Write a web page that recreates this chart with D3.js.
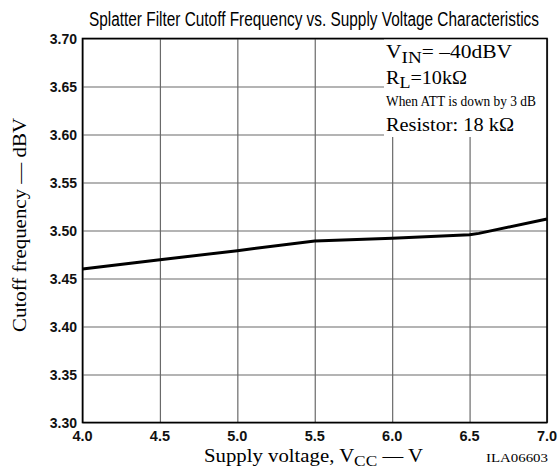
<!DOCTYPE html>
<html><head><meta charset="utf-8">
<script src="https://cdn.jsdelivr.net/npm/d3@7"></script>
<style>body{margin:0;background:#fff}svg{display:block}</style>
</head><body><svg id="c" width="560" height="467"></svg>
<script>
const voltage = [4.0, 4.5, 5.0, 5.5, 6.0, 6.5, 6.56, 7.0];
const cutoff = [3.460, 3.4695, 3.479, 3.489, 3.492, 3.4955, 3.497, 3.512];
const xTicks = [4.0, 4.5, 5.0, 5.5, 6.0, 6.5, 7.0];
const yTicks = [3.30, 3.35, 3.40, 3.45, 3.50, 3.55, 3.60, 3.65, 3.70];
const titleText = "Splatter Filter Cutoff Frequency vs. Supply Voltage Characteristics";

const svg = d3.select("#c");
const L = 82.5, R = 547, T = 38.5, B = 422.5;
const x = d3.scaleLinear().domain([4, 7]).range([L, R]);
const y = d3.scaleLinear().domain([3.30, 3.70]).range([B, T]);

// grid
svg.append("g").attr("transform", `translate(0,${B})`)
  .call(d3.axisBottom(x).tickValues(xTicks).tickSize(-(B - T)).tickFormat(""))
  .call(g => g.select(".domain").remove())
  .call(g => g.selectAll("line").attr("stroke", "#6a6a6a").attr("stroke-width", 1.2));
svg.append("g").attr("transform", `translate(${L},0)`)
  .call(d3.axisLeft(y).tickValues(yTicks).tickSize(-(R - L)).tickFormat(""))
  .call(g => g.select(".domain").remove())
  .call(g => g.selectAll("line").attr("stroke", "#6a6a6a").attr("stroke-width", 1.2));

// tick labels
svg.append("g").selectAll("text").data(xTicks).join("text")
  .attr("x", d => x(d)).attr("y", 441).attr("text-anchor", "middle")
  .attr("font-family", "Liberation Sans, Arial, sans-serif").attr("font-size", 14.5).attr("font-weight", "bold")
  .attr("fill", "#111").text(d => d.toFixed(1));
svg.append("g").selectAll("text").data(yTicks).join("text")
  .attr("x", 77).attr("y", d => y(d) + 5).attr("text-anchor", "end")
  .attr("font-family", "Liberation Sans, Arial, sans-serif").attr("font-size", 14).attr("font-weight", "bold")
  .attr("fill", "#111").text(d => d.toFixed(2));

// legend box
svg.append("rect").attr("x", 384).attr("y", T).attr("width", R - 384).attr("height", 137 - T).attr("fill", "#fff");

// data line
svg.append("path").datum(voltage.map((v, i) => [v, cutoff[i]]))
  .attr("fill", "none").attr("stroke", "#000").attr("stroke-width", 3)
  .attr("d", d3.line().x(d => x(d[0])).y(d => y(d[1])));

// frame
svg.append("rect").attr("x", L).attr("y", T).attr("width", R - L).attr("height", B - T)
  .attr("fill", "none").attr("stroke", "#000").attr("stroke-width", 1.6);

// title
svg.append("text").attr("x", 89).attr("y", 26).attr("textLength", 450).attr("lengthAdjust", "spacingAndGlyphs")
  .attr("font-family", "Liberation Sans Narrow, Liberation Sans, Arial, sans-serif").attr("font-size", 20)
  .attr("fill", "#000").text(titleText);

const serif = "Liberation Serif, Times New Roman, serif";
// legend texts
const t1 = svg.append("text").attr("x", 386).attr("y", 58).attr("font-family", serif).attr("font-size", 18)
  .attr("textLength", 126).attr("lengthAdjust", "spacingAndGlyphs");
t1.append("tspan").text("V");
t1.append("tspan").attr("dy", 5).attr("font-size", 16).text("IN");
t1.append("tspan").attr("dy", -5).text("= \u201340dBV");
const t2 = svg.append("text").attr("x", 386).attr("y", 84).attr("font-family", serif).attr("font-size", 18)
  .attr("textLength", 81).attr("lengthAdjust", "spacingAndGlyphs");
t2.append("tspan").text("R");
t2.append("tspan").attr("dy", 4).attr("font-size", 16).text("L");
t2.append("tspan").attr("dy", -4).text("=10k\u03A9");
svg.append("text").attr("x", 386).attr("y", 106).attr("font-family", serif).attr("font-size", 15)
  .attr("textLength", 150).attr("lengthAdjust", "spacingAndGlyphs").text("When ATT is down by 3 dB");
svg.append("text").attr("x", 386).attr("y", 131).attr("font-family", serif).attr("font-size", 18)
  .attr("textLength", 128).attr("lengthAdjust", "spacingAndGlyphs").text("Resistor: 18 k\u03A9");

// axis titles
const xt = svg.append("text").attr("x", 204).attr("y", 462).attr("font-family", serif).attr("font-size", 18)
  .attr("textLength", 219).attr("lengthAdjust", "spacingAndGlyphs");
xt.append("tspan").text("Supply voltage, V");
xt.append("tspan").attr("dy", 4).attr("font-size", 15).text("CC");
xt.append("tspan").attr("dy", -4).text(" \u2014 V");
svg.append("text").attr("x", 486).attr("y", 462).attr("font-family", serif).attr("font-size", 13)
  .attr("textLength", 62).attr("lengthAdjust", "spacingAndGlyphs").text("ILA06603");
svg.append("text").attr("transform", "translate(26,225) rotate(-90)").attr("text-anchor", "middle")
  .attr("font-family", serif).attr("font-size", 19)
  .attr("textLength", 214).attr("lengthAdjust", "spacingAndGlyphs")
  .text("Cutoff frequency \u2014 dBV");
</script></body></html>
